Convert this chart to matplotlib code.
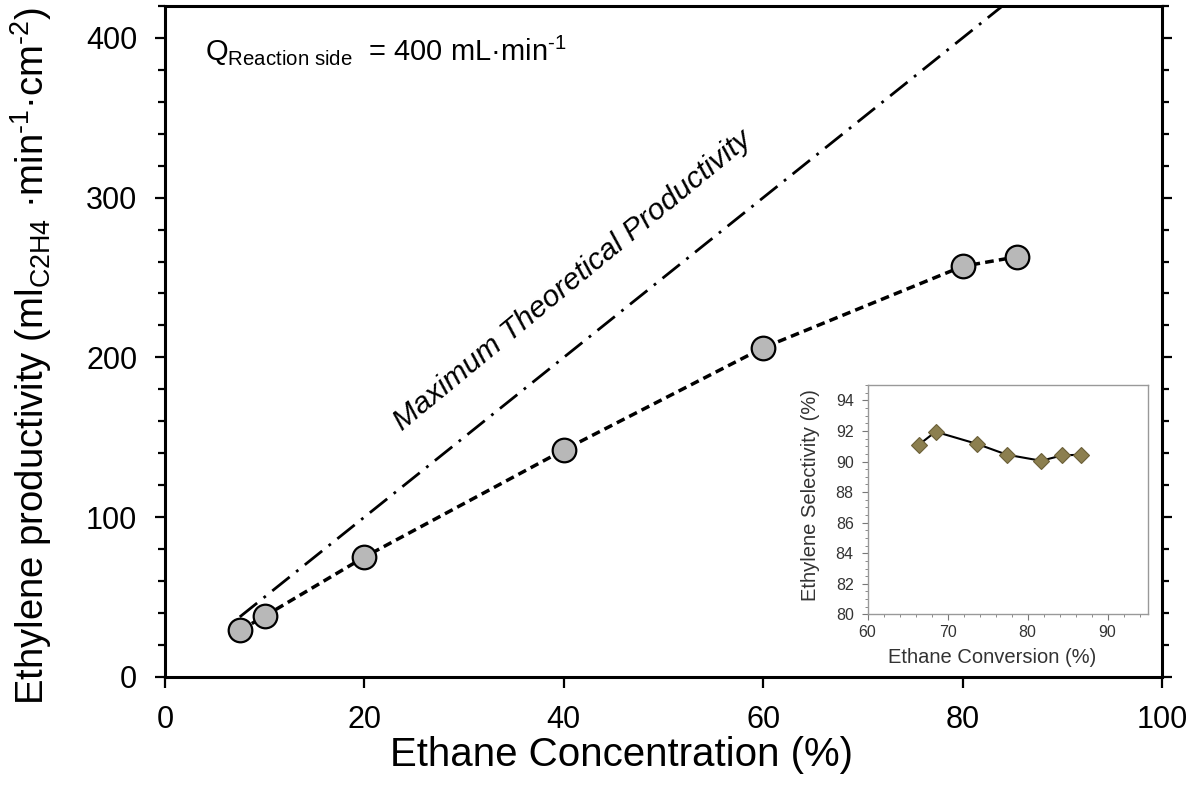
import matplotlib
matplotlib.use("Agg")
import matplotlib.pyplot as plt
from matplotlib.ticker import MultipleLocator

plt.rcParams['font.family'] = ['Liberation Sans', 'DejaVu Sans']
plt.rcParams['mathtext.fontset'] = 'custom'
plt.rcParams['mathtext.rm'] = 'Liberation Sans'
plt.rcParams['mathtext.it'] = 'Liberation Sans:italic'

# Main data
conc = [7.5, 10, 20, 40, 60, 80, 85.5]
productivity = [29, 38, 75, 142, 206, 257, 263]
theo_x = [7.5, 86]
theo_y = [37.5, 430]

# Inset data
conversion = [66.4, 68.5, 73.7, 77.4, 81.7, 84.3, 86.7]
selectivity = [91.1, 91.95, 91.15, 90.45, 90.05, 90.4, 90.45]

HY = '\u2010'

fig = plt.figure(figsize=(12, 8), dpi=100)
ax = fig.add_axes([0.1375, 0.154, 0.8308, 0.8385])

ax.plot(theo_x, theo_y, color='black', lw=2.0, linestyle=(0, (8, 3, 1, 3)), zorder=2)
ax.plot(conc, productivity, color='black', lw=2.5, linestyle=(0, (2.5, 1.5)),
        marker='o', markersize=17, markerfacecolor='#b8b8b8',
        markeredgecolor='black', markeredgewidth=1.6, zorder=3)

ax.set_xlim(0, 100)
ax.set_ylim(0, 420)
ax.xaxis.set_major_locator(MultipleLocator(20))
ax.yaxis.set_major_locator(MultipleLocator(100))
ax.yaxis.set_minor_locator(MultipleLocator(20))

for sp in ax.spines.values():
    sp.set_linewidth(2.2)

ax.tick_params(axis='x', which='major', direction='out', length=8, width=1.6,
               labelsize=22, pad=12, top=False)
ax.tick_params(axis='y', which='major', direction='out', length=7, width=1.6,
               labelsize=22, pad=13, left=True, right=True, labelright=False)
ax.tick_params(axis='y', which='minor', direction='out', length=5, width=1.6,
               left=True, right=True)

ax.set_xlabel('Ethane Concentration (%)', fontsize=29)
ax.xaxis.set_label_coords(0.458, -0.088)
ax.set_ylabel('Ethylene productivity (ml$_{\\rm C2H4}$ ·min$^{\\rm ' + HY + '1}$·cm$^{\\rm ' + HY + '2}$)',
              fontsize=27.5)
ax.yaxis.set_label_coords(-0.111, 0.479)

ax.text(4, 392, 'Q$_{\\rm Reaction\\ side}$  = 400 mL·min$^{\\rm ' + HY + '1}$', fontsize=21,
        ha='left', va='center')
ax.text(40.9, 248, 'Maximum Theoretical Productivity', fontsize=21.8, style='italic',
        rotation=39.5, ha='center', va='center', rotation_mode='anchor')

# Inset
ins = fig.add_axes([0.723, 0.232, 0.2333, 0.2866])
ins.plot(conversion, selectivity, color='black', lw=1.5, marker='D', markersize=8.5,
         markerfacecolor='#8c7f4f', markeredgecolor='#6b5f38', markeredgewidth=0.8)
ins.set_xlim(60, 95)
ins.set_ylim(80, 95)
ins.xaxis.set_major_locator(MultipleLocator(10))
ins.xaxis.set_minor_locator(MultipleLocator(2))
ins.yaxis.set_major_locator(MultipleLocator(2))
ins.yaxis.set_minor_locator(MultipleLocator(0.5))
for sp in ins.spines.values():
    sp.set_linewidth(1.0)
    sp.set_color('#999999')
ins.tick_params(which='both', direction='out', colors='#777777', labelcolor='#333333',
                labelsize=11.5)
ins.tick_params(axis='y', which='major', length=4, pad=6)
ins.tick_params(axis='x', which='major', length=4, pad=3.5)
ins.tick_params(which='minor', length=2.5)
ins.set_xlabel('Ethane Conversion (%)', fontsize=14.5, color='#333333')
ins.xaxis.set_label_coords(0.445, -0.145)
ins.set_ylabel('Ethylene Selectivity (%)', fontsize=14.5, color='#333333')
ins.yaxis.set_label_coords(-0.17, 0.52)

fig.savefig('out.png', dpi=100)
